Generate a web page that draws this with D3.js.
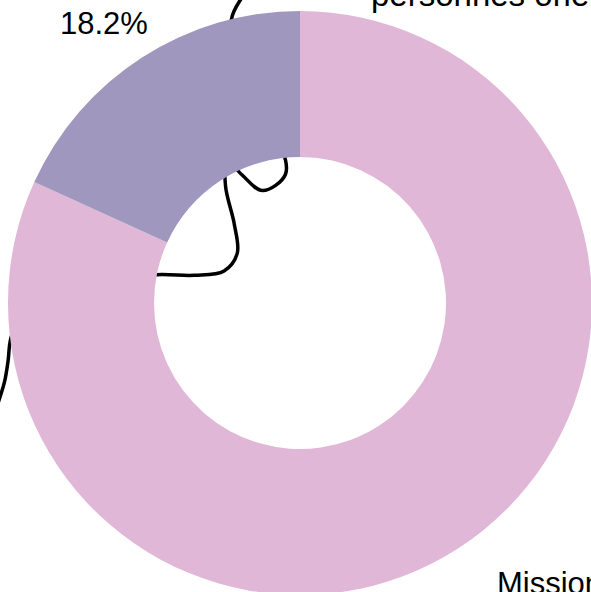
<!DOCTYPE html>
<html>
<head>
<meta charset="utf-8">
<script src="https://cdn.jsdelivr.net/npm/d3@7"></script>
<style>
  body { margin: 0; background: #fff; overflow: hidden; }
  svg { display: block; }
</style>
</head>
<body>
<div class="donut"></div>
<script>
// slices
var categories = ["Missions locales", "Autres"];
var values = [81.8, 18.2];
var colors = ["#e0b7d6", "#a097be"];

// text labels
var labelTexts = ["18.2%", "personnes orientées", "Missions locales"];

// leader line, offsets from donut centre as a fraction of the outer radius
var leader = [
  [-0.14, -1.2], [-0.18, -1.08], [-0.235, -0.97], [-0.19, -0.75], [-0.07, -0.55],
  [-0.05, -0.44], [-0.128, -0.385], [-0.2, -0.44], [-0.25, -0.49],
  [-0.255, -0.40], [-0.225, -0.27], [-0.215, -0.17], [-0.26, -0.11],
  [-0.36, -0.095], [-0.49, -0.097], [-0.8, -0.07], [-0.95, 0.03],
  [-0.99, 0.12], [-1.0, 0.2], [-1.012, 0.27], [-1.04, 0.36]
];

function chart() {
    var width = 591;
    var height = 592;
    var cx = 300, cy = 303;
    var outer = 292, inner = 146;

    var svg = d3.select(".donut").append("svg")
            .attr("width", width)
            .attr("height", height);

    var g = svg.append("g")
            .attr("transform", "translate(" + cx + "," + cy + ")");

    // the connector sits under the ring
    var sx = d3.scaleLinear().domain([-1, 1]).range([-outer, outer]);
    var line = d3.line()
            .x(function(d) { return sx(d[0]); })
            .y(function(d) { return sx(d[1]); })
            .curve(d3.curveCatmullRom.alpha(0.5));

    g.append("path")
            .attr("d", line(leader))
            .attr("fill", "none")
            .attr("stroke", "#000")
            .attr("stroke-width", 3.5);

    var pie = d3.pie().sort(null).value(function(d) { return d; });
    var arc = d3.arc().innerRadius(inner).outerRadius(outer);

    g.selectAll("path.slice")
            .data(pie(values))
            .enter().append("path")
            .attr("class", "slice")
            .attr("d", arc)
            .attr("fill", function(d, i) { return colors[i]; });

    var font = "'Liberation Sans', Arial, sans-serif";

    svg.append("text")
            .attr("x", 60).attr("y", 34)
            .attr("font-family", font).attr("font-size", 31)
            .text(labelTexts[0]);

    svg.append("text")
            .attr("x", 371).attr("y", 6)
            .attr("font-family", font).attr("font-size", 33)
            .text(labelTexts[1]);

    svg.append("text")
            .attr("x", 497).attr("y", 594)
            .attr("font-family", font).attr("font-size", 31)
            .text(labelTexts[2]);
}

chart();
</script>
</body>
</html>
